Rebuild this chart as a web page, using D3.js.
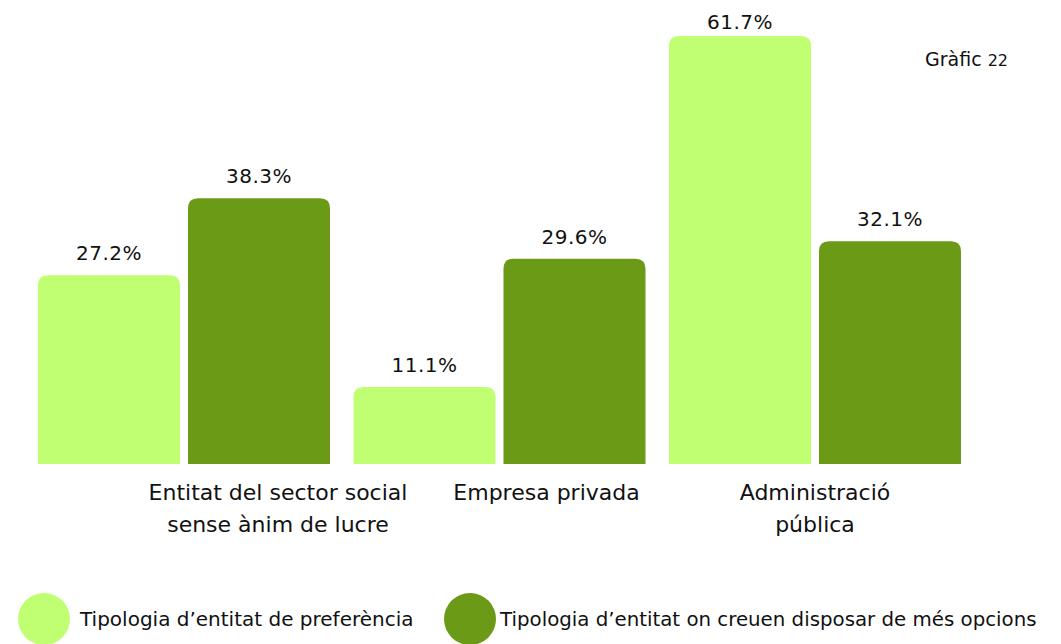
<!DOCTYPE html>
<html>
<head>
<meta charset="utf-8">
<script src="https://cdn.jsdelivr.net/npm/d3@7"></script>
<style>
  body { margin: 0; background: #fff; }
  svg { display: block; font-family: "DejaVu Sans", sans-serif; fill: #111; }
</style>
</head>
<body>
<div id="canvas"></div>
<script>
// Chart data
var categories = [
  ["Entitat del sector social", "sense ànim de lucre"],
  ["Empresa privada"],
  ["Administració", "pública"]
];
var seriesNames = [
  "Tipologia d\u2019entitat de preferència",
  "Tipologia d\u2019entitat on creuen disposar de més opcions"
];
var preferencia = [27.2, 11.1, 61.7];
var mesOpcions = [38.3, 29.6, 32.1];

var colors = ["#c1ff72", "#6b9a17"];

var W = 1061, H = 644;
var svg = d3.select("#canvas").append("svg")
  .attr("width", W).attr("height", H);

var baseY = 464;

var x0 = d3.scaleBand().domain(d3.range(categories.length))
  .range([38, 961]).paddingInner(0.0745).paddingOuter(0);
var x1 = d3.scaleBand().domain([0, 1])
  .range([0, x0.bandwidth()]).paddingInner(0.0533).paddingOuter(0);
var y = d3.scaleLinear().domain([0, 61.7]).range([baseY, 36]);

var rows = categories.map(function(c, i){
  return { i: i, vals: [preferencia[i], mesOpcions[i]] };
});

// rounded top corners only
function topRounded(x, yTop, w, h, r){
  r = Math.min(r, h, w/2);
  return "M" + x + "," + (yTop + h) +
    "V" + (yTop + r) +
    "Q" + x + "," + yTop + " " + (x + r) + "," + yTop +
    "H" + (x + w - r) +
    "Q" + (x + w) + "," + yTop + " " + (x + w) + "," + (yTop + r) +
    "V" + (yTop + h) + "Z";
}

var groups = svg.selectAll(".group").data(rows).enter()
  .append("g").attr("class", "group")
  .attr("transform", function(d){ return "translate(" + x0(d.i) + ",0)"; });

groups.selectAll("path.bar").data(function(d){ return d.vals; }).enter()
  .append("path").attr("class", "bar")
  .attr("d", function(v, j){
    return topRounded(x1(j), y(v), x1.bandwidth(), baseY - y(v), 10);
  })
  .style("fill", function(v, j){ return colors[j]; });

// value labels, kept inside the top of the canvas
groups.selectAll("text.val").data(function(d){ return d.vals; }).enter()
  .append("text").attr("class", "val")
  .attr("x", function(v, j){ return x1(j) + x1.bandwidth()/2; })
  .attr("y", function(v){ return Math.max(y(v) - 15, 29); })
  .attr("text-anchor", "middle")
  .style("font-size", "20px")
  .style("letter-spacing", "0.5px")
  .text(function(v){ return v.toFixed(1) + "%"; });

// category labels (offsets follow the original layout)
var labelShift = [94, 47, 0];
svg.selectAll(".cat").data(categories).enter()
  .append("text").attr("class", "cat")
  .attr("text-anchor", "middle")
  .style("font-size", "22px")
  .each(function(lines, i){
    var cx = x0(i) + x0.bandwidth()/2 + labelShift[i];
    d3.select(this).selectAll("tspan").data(lines).enter()
      .append("tspan")
      .attr("x", cx)
      .attr("y", function(l, k){ return 500 + k * 32; })
      .text(function(l){ return l; });
  });

// legend
var legendX = [44, 470];
var leg = svg.selectAll(".legend").data(seriesNames).enter()
  .append("g").attr("class", "legend")
  .attr("transform", function(d, i){ return "translate(" + legendX[i] + ",619)"; });
leg.append("circle").attr("r", 26).style("fill", function(d, i){ return colors[i]; });
leg.append("text").attr("x", function(d, i){ return i ? 30 : 36; }).attr("y", 7)
  .style("font-size", function(d, i){ return i ? "19.8px" : "20px"; })
  .text(function(d){ return d; });

// caption
var cap = svg.append("text").attr("x", 925).attr("y", 66)
  .style("font-size", "19px");
cap.append("tspan").text("Gràfic ");
cap.append("tspan").style("font-size", "16px").text("22");
</script>
</body>
</html>
